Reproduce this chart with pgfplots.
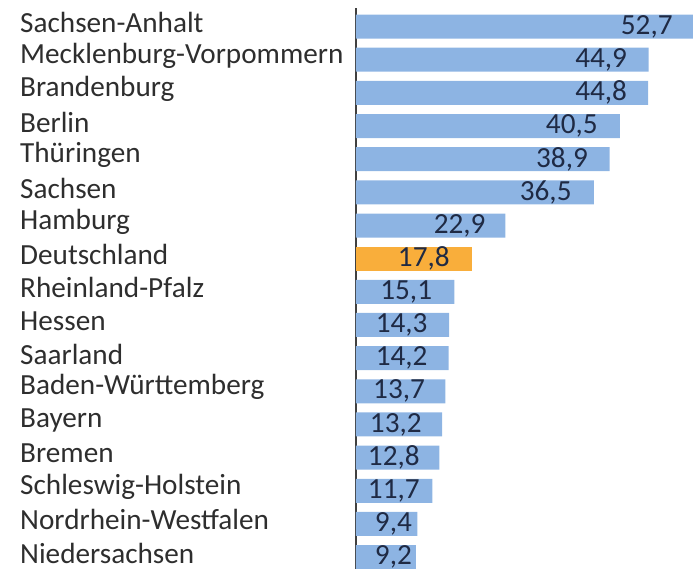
\documentclass[border=0pt]{standalone}
\usepackage{fontspec}
\setmainfont{Carlito}
\usepackage{pgfplots}
\pgfplotsset{compat=1.18}
\definecolor{barblue}{HTML}{8DB4E3}
\definecolor{barorange}{HTML}{F9AE3B}
\definecolor{labnavy}{HTML}{1F2A44}
\definecolor{cattext}{HTML}{2E2E2E}
\begin{document}
\begin{tikzpicture}
\begin{axis}[
  at={(0,0)}, anchor=south west,
  scale only axis,
  width=337bp, height=561bp,
  xmin=0, xmax=51.7,
  ymin=0.44, ymax=17.36,
  y dir=reverse,
  axis x line=none,
  axis y line*=left,
  y axis line style={draw=black!75, line width=1.1pt},
  ytick={1,...,17},
  yticklabels={Sachsen-Anhalt,Mecklenburg-Vorpommern,Brandenburg,Berlin,Thüringen,Sachsen,Hamburg,Deutschland,Rheinland-Pfalz,Hessen,Saarland,Baden-Württemberg,Bayern,Bremen,Schleswig-Holstein,Nordrhein-Westfalen,Niedersachsen},
  major tick length=0pt,
  yticklabel style={anchor=west, inner sep=0pt, xshift=-336bp, yshift=4bp, text=cattext, font=\fontsize{29.2bp}{30bp}\selectfont},
  /pgf/number format/assume math mode=true,
  bar width=24bp,
]
\addplot[xbar, bar shift=0pt, fill=barblue, draw=none] coordinates {
  (52.7,1) (44.9,2) (44.8,3) (40.5,4) (38.9,5) (36.5,6) (22.9,7)
  (15.1,9) (14.3,10) (14.2,11) (13.7,12) (13.2,13) (12.8,14) (11.7,15) (9.4,16) (9.2,17)
};
\addplot[xbar, bar shift=0pt, fill=barorange, draw=none] coordinates {(17.8,8)};
\addplot[only marks, mark=none, draw=none, forget plot,
  point meta=explicit,
  nodes near coords={\pgfmathprintnumber[fixed,fixed zerofill,precision=1,use comma]{\pgfplotspointmeta}},
  every node near coord/.append style={anchor=east, inner sep=0pt, draw=none, text=labnavy, font=\fontsize{29.2bp}{30bp}\selectfont},
] table[meta=v] {
x y v
48.6 1 52.7
41.6 2 44.9
41.6 3 44.8
37.1 4 40.5
35.6 5 38.9
33.1 6 36.5
19.9 7 22.9
14.4 8 17.8
11.7 9 15.1
11.0 10 14.3
11.0 11 14.2
10.6 12 13.7
10.1 13 13.2
9.8 14 12.8
9.8 15 11.7
8.6 16 9.4
8.6 17 9.2
};
\end{axis}
\pgfresetboundingbox
\path[use as bounding box] (-356bp,0) rectangle (337bp,569bp);
\end{tikzpicture}
\end{document}
